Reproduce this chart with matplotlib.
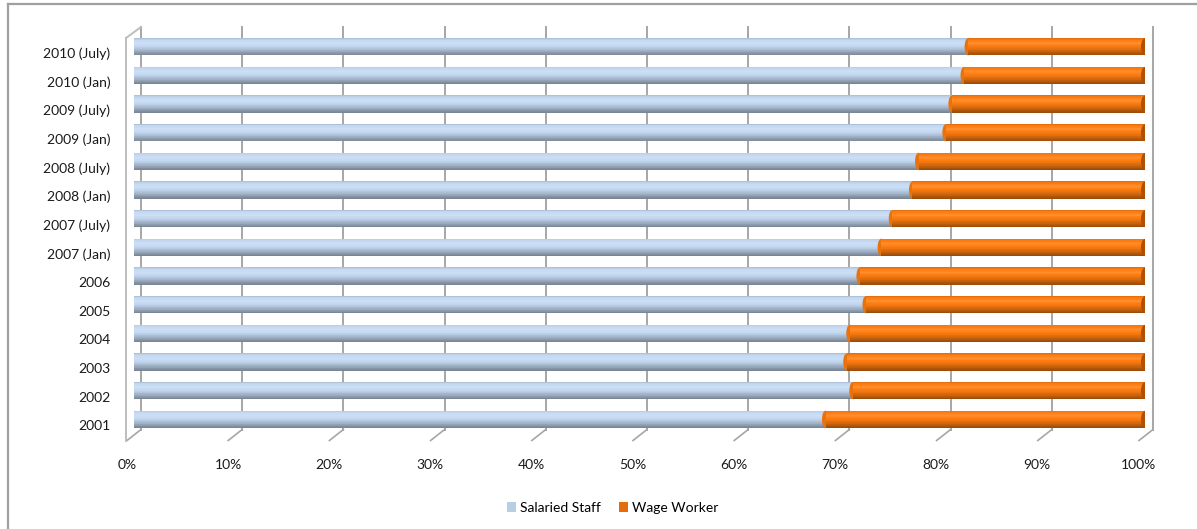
import numpy as np
import matplotlib
matplotlib.use('Agg')
import matplotlib.pyplot as plt
from matplotlib.patches import Ellipse, Patch
from matplotlib.lines import Line2D
from matplotlib.colors import to_rgb
from matplotlib.transforms import ScaledTranslation

plt.rcParams['font.family'] = ['Lato', 'DejaVu Sans']

# Data (bottom to top, as drawn)
# ===================================================================
periods = ['2001', '2002', '2003', '2004', '2005', '2006', '2007 (Jan)', '2007 (July)',
           '2008 (Jan)', '2008 (July)', '2009 (Jan)', '2009 (July)', '2010 (Jan)', '2010 (July)']
salaried_staff = [68.4, 71.1, 70.5, 70.8, 72.4, 71.8, 73.9, 75.0, 77.0, 77.6, 80.3, 80.9, 82.1, 82.5]
wage_worker = [31.6, 28.9, 29.5, 29.2, 27.6, 28.2, 26.1, 25.0, 23.0, 22.4, 19.7, 19.1, 17.9, 17.5]
x_ticks = [0, 10, 20, 30, 40, 50, 60, 70, 80, 90, 100]
x_tick_labels = ['0%', '10%', '20%', '30%', '40%', '50%', '60%', '70%', '80%', '90%', '100%']
series_names = ['Salaried Staff', 'Wage Worker']

# Layout (pixels of the 1197x529 picture)
# ===================================================================
W, H = 1197, 529
AX_L, AX_R = 134, 1145
AX_T, AX_B = 32.4, 433.6
fig = plt.figure(figsize=(W / 100, H / 100), dpi=100)
ax = fig.add_axes([AX_L / W, (H - AX_B) / H, (AX_R - AX_L) / W, (AX_B - AX_T) / H])
ax.set_xlim(0, 1)
ax.set_ylim(-0.5, len(periods) - 0.5)
px = 1 / (AX_R - AX_L)                       # data x per pixel
py = len(periods) / (AX_B - AX_T)            # data y per pixel

grid_col = '#a6a6a6'
wall_col = '#bdbdbd'
y_back_bot = -0.5 + (AX_B - 429.5) * py
y_back_top = len(periods) - 0.5 + (AX_T - 27) * py
y_front_bot = y_back_bot - 11 * py

# back wall gridlines + floor diagonals
for v in x_ticks:
    xb = (141 - AX_L) * px + v / 100 * 1012 * px
    xf_tick = xb - 14 * px
    ax.plot([xb, xb], [y_back_bot, y_back_top], color=grid_col, lw=1.4, zorder=1, clip_on=False)
    ax.plot([xb, xf_tick], [y_back_bot, y_front_bot], color=grid_col, lw=1.2,
            zorder=1, clip_on=False)

# left side wall
x_wall_back = (141 - AX_L) * px
x_wall_front = x_wall_back - 15 * px
ax.plot([x_wall_front, x_wall_front], [y_front_bot, y_back_top - 11 * py], color=wall_col, lw=1.4,
        clip_on=False, zorder=1)
ax.plot([x_wall_front, x_wall_back], [y_back_top - 11 * py, y_back_top], color=wall_col, lw=1.4,
        clip_on=False, zorder=1)


# Cylinder shading
# ===================================================================
def shade(base, t):
    ts = [0.0, 0.08, 0.3, 0.55, 0.8, 1.0]
    fs = [0.86, 0.98, 1.05, 0.95, 0.76, 0.6]
    f = np.interp(t, ts, fs)
    c = np.array(to_rgb(base))
    if f > 1:
        return tuple(c + (1 - c) * (f - 1) * 3)
    return tuple(c * f)


blue = '#c4d9f2'
orange = '#ff7d10'
y = np.arange(len(periods))
sal = np.array(salaried_staff)
wag = np.array(wage_worker)
share_s = sal / (sal + wag)
share_w = wag / (sal + wag)
bar_h = 0.6
n_strips = 24
for k in range(n_strips):
    t = (k + 0.5) / n_strips
    yoff = bar_h / 2 - t * bar_h
    ax.barh(y + yoff, share_s, height=bar_h / n_strips * 1.15, left=0,
            color=shade(blue, t), linewidth=0, zorder=3)
    ax.barh(y + yoff, share_w, height=bar_h / n_strips * 1.15, left=share_s,
            color=shade(orange, t), linewidth=0, zorder=5)

for yi, s, w in zip(y, share_s, share_w):
    ax.add_patch(Ellipse((0, yi), 7 * px, bar_h, color='#b3c7e0', zorder=2.5, lw=0))
    ax.add_patch(Ellipse((s, yi), 7 * px, bar_h, color='#e8720c', zorder=4, lw=0))
    ax.add_patch(Ellipse((s + w, yi), 8 * px, bar_h * 0.98, color='#b05000', zorder=6, lw=0))

# Axes text
# ===================================================================
ax.set_yticks(y)
ax.set_yticklabels(periods, fontsize=10, color='#1a1a1a')
ax.set_xticks([v / 100 for v in x_ticks])
ax.set_xticklabels(x_tick_labels, fontsize=10, color='#1a1a1a')
ax.tick_params(axis='y', length=0, pad=17)
ax.tick_params(axis='x', length=0, pad=18)
for lab in ax.get_yticklabels():
    lab.set_transform(lab.get_transform() + ScaledTranslation(0, -0.06, fig.dpi_scale_trans))
for lab in ax.get_xticklabels():
    lab.set_transform(lab.get_transform() + ScaledTranslation(-0.07, 0, fig.dpi_scale_trans))
for sp in ax.spines.values():
    sp.set_visible(False)
ax.set_facecolor('none')

handles = [Patch(facecolor='#b9cde5'), Patch(facecolor='#e46c0a')]
fig.legend(handles, series_names, loc='center', bbox_to_anchor=(613 / W, 1 - 508 / H),
           ncol=2, frameon=False, handlelength=0.65, handleheight=0.65, handletextpad=0.3,
           columnspacing=1.3, fontsize=10)

# outer chart frame (only left and top edges visible)
fig.add_artist(Line2D([8 / W, 8 / W], [0, 1 - 4 / H], transform=fig.transFigure, color='#a0a0a0', lw=1.6))
fig.add_artist(Line2D([8 / W, 1], [1 - 4 / H, 1 - 4 / H], transform=fig.transFigure, color='#a0a0a0', lw=1.6))

fig.savefig('out.png', dpi=100)
